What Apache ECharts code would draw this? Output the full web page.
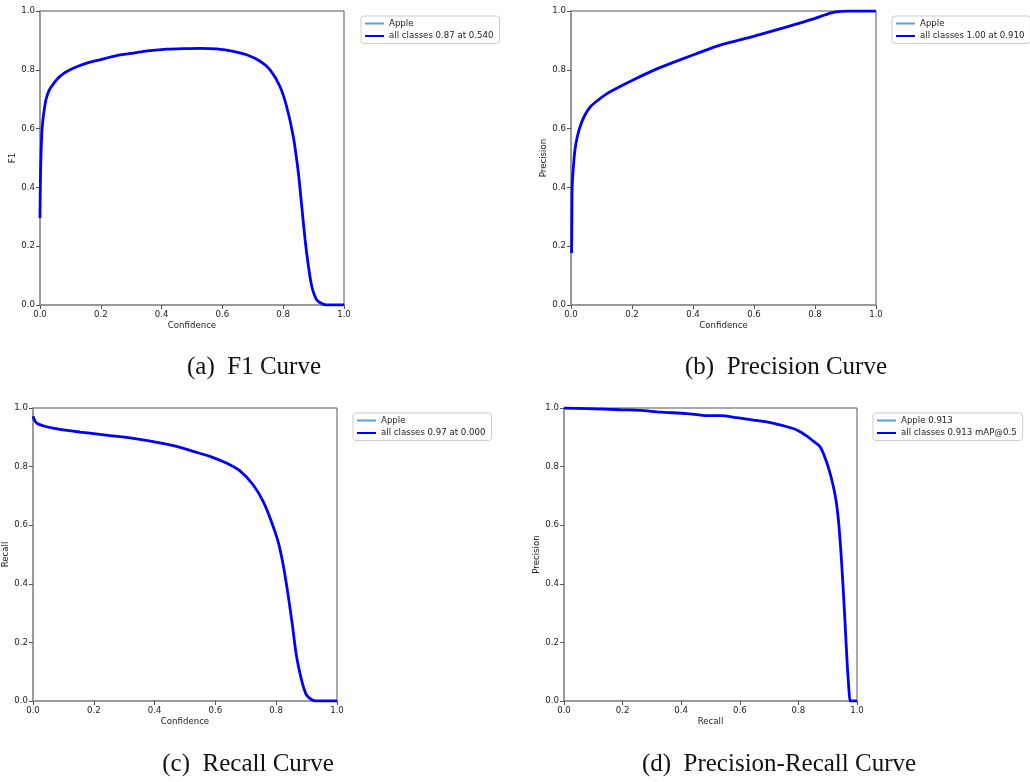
<!DOCTYPE html>
<html><head><meta charset="utf-8">
<script src="https://cdn.jsdelivr.net/npm/echarts/dist/echarts.min.js"></script>
<style>html,body{margin:0;padding:0;background:#fff}#c{width:1030px;height:782px}</style>
</head><body><div id="c"></div>
<script>
// ---- data ----
const tickLabels = ['0.0', '0.2', '0.4', '0.6', '0.8', '1.0'];
const captions = ['(a)  F1 Curve', '(b)  Precision Curve', '(c)  Recall Curve', '(d)  Precision-Recall Curve'];
const xNames = ['Confidence', 'Confidence', 'Confidence', 'Recall'];
const yNames = ['F1', 'Precision', 'Recall', 'Precision'];
const classLabels = ['Apple', 'Apple', 'Apple', 'Apple 0.913'];
const allLabels = ['all classes 0.87 at 0.540', 'all classes 1.00 at 0.910', 'all classes 0.97 at 0.000', 'all classes 0.913 mAP@0.5'];

const f1X = [0, 0.001, 0.003, 0.007, 0.012, 0.02, 0.03, 0.044, 0.06, 0.077, 0.099, 0.125, 0.154, 0.197, 0.252, 0.307, 0.362, 0.417, 0.471, 0.526, 0.581, 0.636, 0.68, 0.724, 0.757, 0.789, 0.811, 0.833, 0.85, 0.861, 0.872, 0.883, 0.894, 0.91, 0.927, 0.943, 1.0];
const f1Y = [0.296, 0.40, 0.50, 0.60, 0.65, 0.70, 0.73, 0.752, 0.772, 0.787, 0.80, 0.812, 0.823, 0.834, 0.848, 0.857, 0.865, 0.870, 0.872, 0.873, 0.871, 0.863, 0.851, 0.829, 0.80, 0.744, 0.676, 0.574, 0.449, 0.336, 0.222, 0.132, 0.063, 0.018, 0.005, 0.0, 0.0];

const precX = [0.002, 0.003, 0.004, 0.008, 0.013, 0.021, 0.032, 0.046, 0.065, 0.09, 0.117, 0.15, 0.205, 0.27, 0.325, 0.402, 0.489, 0.598, 0.708, 0.795, 0.85, 0.883, 0.91, 1.0];
const precY = [0.177, 0.30, 0.404, 0.472, 0.528, 0.574, 0.613, 0.647, 0.676, 0.698, 0.718, 0.737, 0.766, 0.798, 0.821, 0.851, 0.884, 0.914, 0.946, 0.973, 0.993, 0.999, 1.0, 1.0];

const recX = [0, 0.007, 0.018, 0.045, 0.089, 0.154, 0.22, 0.286, 0.351, 0.417, 0.472, 0.527, 0.582, 0.636, 0.68, 0.724, 0.757, 0.784, 0.806, 0.823, 0.839, 0.853, 0.866, 0.883, 0.899, 0.916, 0.932, 1.0];
const recY = [0.972, 0.955, 0.945, 0.936, 0.927, 0.918, 0.910, 0.902, 0.893, 0.881, 0.869, 0.852, 0.835, 0.812, 0.786, 0.738, 0.681, 0.613, 0.545, 0.465, 0.363, 0.261, 0.158, 0.073, 0.022, 0.005, 0, 0];

const prX = [0, 0.078, 0.192, 0.26, 0.329, 0.42, 0.488, 0.534, 0.59, 0.647, 0.704, 0.761, 0.795, 0.829, 0.852, 0.873, 0.886, 0.903, 0.918, 0.929, 0.937, 0.945, 0.952, 0.959, 0.966, 0.972, 0.976, 0.978, 1.0];
const prY = [1.0, 0.998, 0.994, 0.992, 0.986, 0.981, 0.974, 0.974, 0.967, 0.959, 0.950, 0.936, 0.925, 0.904, 0.886, 0.869, 0.843, 0.795, 0.738, 0.681, 0.613, 0.511, 0.397, 0.272, 0.135, 0.044, 0.0, 0.0, 0.0];

// ---- layout ----
const grids = [
  {left: 40, top: 11, width: 304, height: 294},
  {left: 571, top: 11, width: 305, height: 294},
  {left: 33, top: 408, width: 304, height: 293},
  {left: 564, top: 408, width: 293, height: 293}
];
const legendPos = [
  {left: 361, top: 16}, {left: 892, top: 16}, {left: 353, top: 413}, {left: 873, top: 413}
];
const captionPos = [[254, 367], [786, 367], [248, 764], [779, 764]];

const curves = [[f1X, f1Y], [precX, precY], [recX, recY], [prX, prY]];
const zip = (xs, ys) => xs.map((x, i) => [x, ys[i]]);

const font = 'DejaVu Sans';
const fs = 8.6;
const txt = '#222';
const fmt = v => tickLabels[Math.round(v / 0.2)];

const option = {
  backgroundColor: '#fff',
  animation: false,
  grid: grids.map(g => Object.assign({show: true, borderColor: '#555', borderWidth: 1, backgroundColor: 'transparent'}, g)),
  xAxis: grids.map((g, i) => ({
    gridIndex: i, type: 'value', min: 0, max: 1, interval: 0.2,
    name: xNames[i], nameLocation: 'middle', nameGap: 16,
    nameTextStyle: {fontFamily: font, fontSize: fs, color: txt},
    axisLine: {show: true, onZero: false, lineStyle: {color: '#999', width: 2}},
    axisTick: {show: true, length: 4, lineStyle: {color: '#555'}},
    axisLabel: {formatter: fmt, fontFamily: font, fontSize: fs, color: txt, margin: 5},
    splitLine: {show: false}
  })),
  yAxis: grids.map((g, i) => ({
    gridIndex: i, type: 'value', min: 0, max: 1, interval: 0.2,
    name: yNames[i], nameLocation: 'middle', nameGap: 22, nameRotate: 90,
    nameTextStyle: {fontFamily: font, fontSize: fs, color: txt},
    axisLine: {show: true, onZero: false, lineStyle: {color: '#999', width: 2}},
    axisTick: {show: true, length: 4, lineStyle: {color: '#555'}},
    axisLabel: {formatter: fmt, fontFamily: font, fontSize: fs, color: txt, margin: 5},
    splitLine: {show: false}
  })),
  legend: grids.map((g, i) => ({
    orient: 'vertical', left: legendPos[i].left, top: legendPos[i].top,
    data: ['c' + i, 'a' + i],
    formatter: n => (n[0] === 'c' ? classLabels[i] : allLabels[i]),
    itemWidth: 19, itemHeight: 8, itemGap: 3.5,
    padding: [3, 6, 3, 3],
    itemStyle: {opacity: 0},
    borderColor: '#ccc', borderWidth: 1, borderRadius: 3, backgroundColor: '#fff',
    textStyle: {fontFamily: font, fontSize: fs, color: txt},
    selectedMode: false
  })),
  series: [],
  graphic: captions.map((c, i) => ({
    type: 'text', x: captionPos[i][0], y: captionPos[i][1],
    style: {text: c, fill: '#111', font: '25px "Liberation Serif"', textAlign: 'center', textVerticalAlign: 'middle'}
  }))
};

curves.forEach((cv, i) => {
  const d = zip(cv[0], cv[1]);
  option.series.push({
    name: 'c' + i, type: 'line', xAxisIndex: i, yAxisIndex: i, data: d,
    showSymbol: false, symbol: 'none', smooth: 0.25, z: 2,
    lineStyle: {color: '#5a9fd6', width: 1}, itemStyle: {color: '#5a9fd6'}
  });
  option.series.push({
    name: 'a' + i, type: 'line', xAxisIndex: i, yAxisIndex: i, data: d,
    showSymbol: false, symbol: 'none', smooth: 0.25, z: 3,
    lineStyle: {color: '#0000ff', width: 2.8}, itemStyle: {color: '#0000ff'}
  });
});

const chart = echarts.init(document.getElementById('c'), null, {renderer: 'canvas'});
chart.setOption(option);
</script>
</body></html>
